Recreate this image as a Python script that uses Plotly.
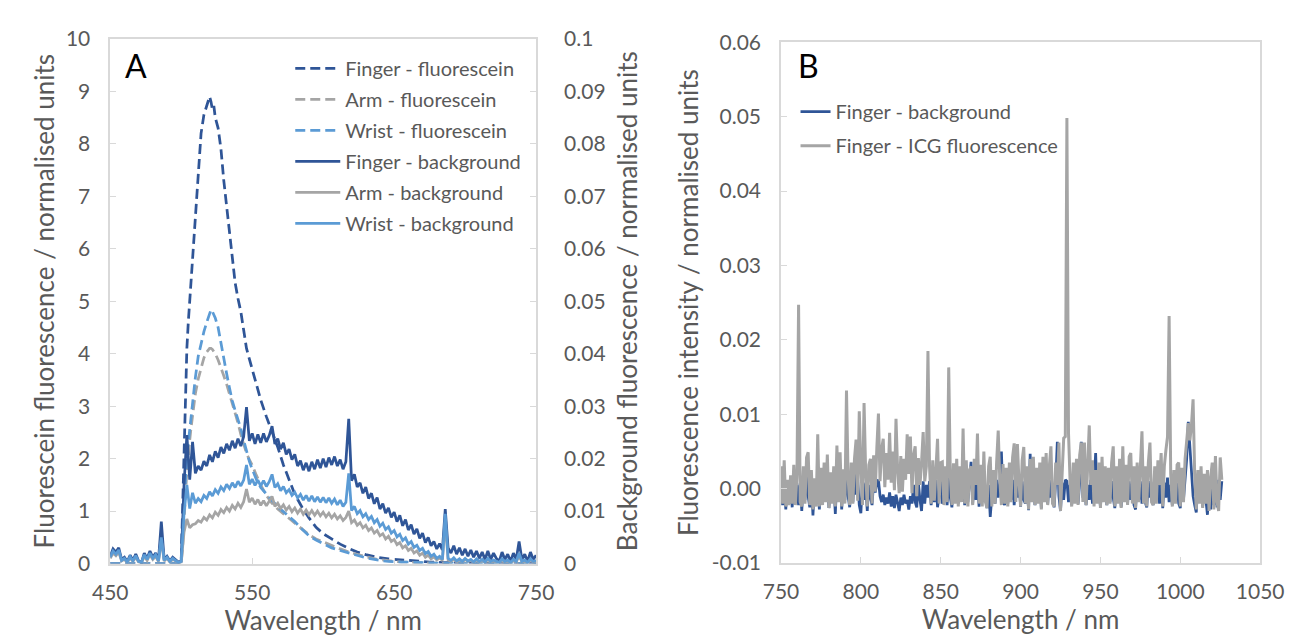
import plotly.graph_objects as go

# ---------------- Panel A data ----------------
fl_wl = [450, 470, 490, 499, 500, 501, 502, 503, 504, 505, 506, 507, 508,
         510, 512, 514, 516, 518, 520, 521, 522, 523, 524,
         526, 528, 530, 532, 534, 536, 538, 540, 542, 544, 546, 548, 550,
         553, 556, 560, 564, 568, 572, 576, 580, 585, 590, 595, 600,
         606, 612, 618, 624, 630, 638, 646, 655, 665, 675, 685, 695,
         710, 730, 750]

finger_fl = [0, 0, 0, 0, 0.05, 1.2, 2.4, 3.4, 4.1, 4.6, 5.0, 5.5, 5.9,
             6.5, 7.5, 8.2, 8.55, 8.75, 8.9, 8.8, 8.65, 8.72, 8.5,
             8.3, 7.9, 7.3, 6.8, 6.3, 5.75, 5.35, 5.05, 4.8, 4.45, 4.1, 3.9, 3.7,
             3.4, 3.12, 2.8, 2.52, 2.22, 1.88, 1.58, 1.32, 1.08, 0.87, 0.69, 0.57,
             0.47, 0.37, 0.29, 0.22, 0.17, 0.12, 0.09, 0.07, 0.05, 0.03, 0.02, 0.01,
             0.005, 0, 0]

arm_fl = [0, 0, 0, 0, 0, 0.3, 0.9, 1.3, 1.75, 2.1, 2.35, 2.6, 2.85,
          3.24, 3.52, 3.75, 3.92, 4.03, 4.1, 4.1, 4.08, 4.04, 4.0,
          3.88, 3.74, 3.58, 3.42, 3.24, 3.07, 2.88, 2.68, 2.46, 2.28, 2.1, 1.98, 1.88,
          1.68, 1.5, 1.3, 1.15, 1.04, 0.95, 0.86, 0.77, 0.65, 0.55, 0.47, 0.41,
          0.34, 0.28, 0.22, 0.17, 0.13, 0.08, 0.05, 0.03, 0.02, 0.01, 0, 0,
          0, 0, 0]

wrist_fl = [0, 0, 0, 0, 0.02, 0.8, 1.1, 1.7, 2.05, 2.3, 2.55, 2.8, 3.1,
            3.55, 3.95, 4.22, 4.42, 4.6, 4.78, 4.84, 4.8, 4.74, 4.68,
            4.5, 4.18, 3.9, 3.62, 3.35, 3.1, 2.92, 2.75, 2.57, 2.35, 2.12, 1.95, 1.8,
            1.6, 1.45, 1.32, 1.2, 1.08, 0.99, 0.9, 0.8, 0.66, 0.53, 0.45, 0.38,
            0.3, 0.25, 0.2, 0.15, 0.11, 0.07, 0.04, 0.03, 0.02, 0.01, 0.005, 0,
            0, 0, 0]

bg_wl = list(range(450, 751, 2))

finger_bg = [
    0.0015, 0.0028, 0.0022, 0.0030, 0.0008, 0.0012, 0.0004, 0.0016, 0.0006, 0.0018,
    0.0005, 0.0002, 0.0020, 0.0010, 0.0024, 0.0012, 0.0020, 0.0006, 0.0080, 0.0008,
    0.0014, 0.0005, 0.0012, 0.0008, 0.0003, 0.0005, 0.0150, 0.0245, 0.0160, 0.0232,
    0.0172, 0.0186, 0.0178, 0.0195, 0.0186, 0.0207, 0.0194, 0.0214, 0.0202, 0.0222,
    0.0210, 0.0228, 0.0216, 0.0234, 0.0220, 0.0238, 0.0224, 0.0242, 0.0298, 0.0234,
    0.0248, 0.0228, 0.0246, 0.0230, 0.0248, 0.0232, 0.0244, 0.0262, 0.0228, 0.0238,
    0.0218, 0.0230, 0.0208, 0.0218, 0.0198, 0.0208, 0.0186, 0.0196, 0.0178, 0.0192,
    0.0176, 0.0194, 0.0180, 0.0198, 0.0182, 0.0200, 0.0184, 0.0202, 0.0188, 0.0204,
    0.0186, 0.0198, 0.0180, 0.0194, 0.0276, 0.0158, 0.0170, 0.0146, 0.0154, 0.0134,
    0.0146, 0.0124, 0.0134, 0.0114, 0.0126, 0.0104, 0.0114, 0.0096, 0.0106, 0.0088,
    0.0098, 0.0080, 0.0092, 0.0072, 0.0084, 0.0064, 0.0074, 0.0056, 0.0066, 0.0048,
    0.0058, 0.0040, 0.0050, 0.0034, 0.0042, 0.0028, 0.0038, 0.0026, 0.0104, 0.0030,
    0.0020, 0.0034, 0.0018, 0.0030, 0.0016, 0.0028, 0.0014, 0.0026, 0.0012, 0.0024,
    0.0010, 0.0022, 0.0008, 0.0024, 0.0008, 0.0020, 0.0010, 0.0004, 0.0022, 0.0008,
    0.0018, 0.0004, 0.0020, 0.0008, 0.0042, 0.0008, 0.0018, 0.0004, 0.0022, 0.0008,
    0.0016]

arm_bg = [
    0.0010, 0.0020, 0.0015, 0.0022, 0.0005, 0.0008, 0.0002, 0.0011, 0.0004, 0.0012,
    0.0003, 0.0001, 0.0014, 0.0006, 0.0017, 0.0008, 0.0014, 0.0004, 0.0045, 0.0005,
    0.0010, 0.0003, 0.0008, 0.0005, 0.0002, 0.0003, 0.0060, 0.0085, 0.0068, 0.0074,
    0.0076, 0.0082, 0.0079, 0.0088, 0.0083, 0.0093, 0.0087, 0.0098, 0.0092, 0.0103,
    0.0097, 0.0107, 0.0100, 0.0111, 0.0104, 0.0115, 0.0107, 0.0118, 0.0142, 0.0117,
    0.0125, 0.0113, 0.0122, 0.0111, 0.0120, 0.0110, 0.0118, 0.0128, 0.0109, 0.0115,
    0.0105, 0.0112, 0.0102, 0.0109, 0.0099, 0.0106, 0.0096, 0.0104, 0.0094, 0.0102,
    0.0093, 0.0101, 0.0092, 0.0100, 0.0091, 0.0098, 0.0089, 0.0096, 0.0087, 0.0094,
    0.0085, 0.0091, 0.0082, 0.0088, 0.0100, 0.0078, 0.0083, 0.0073, 0.0078, 0.0068,
    0.0073, 0.0063, 0.0068, 0.0058, 0.0063, 0.0053, 0.0057, 0.0047, 0.0052, 0.0042,
    0.0046, 0.0036, 0.0040, 0.0030, 0.0034, 0.0025, 0.0029, 0.0020, 0.0024, 0.0016,
    0.0020, 0.0012, 0.0016, 0.0009, 0.0013, 0.0007, 0.0011, 0.0006, 0.0080, 0.0007,
    0.0004, 0.0008, 0.0003, 0.0007, 0.0003, 0.0008, 0.0004, 0.0006, 0.0002, 0.0007,
    0.0003, 0.0006, 0.0002, 0.0008, 0.0003, 0.0005, 0.0004, 0.0001, 0.0007, 0.0003,
    0.0005, 0.0001, 0.0006, 0.0003, 0.0015, 0.0003, 0.0005, 0.0001, 0.0007, 0.0003,
    0.0005]

wrist_bg = [
    0.0012, 0.0024, 0.0018, 0.0026, 0.0006, 0.0010, 0.0003, 0.0013, 0.0005, 0.0015,
    0.0004, 0.0002, 0.0017, 0.0008, 0.0020, 0.0010, 0.0017, 0.0005, 0.0050, 0.0006,
    0.0012, 0.0004, 0.0010, 0.0006, 0.0002, 0.0004, 0.0095, 0.0150, 0.0105, 0.0135,
    0.0115, 0.0124, 0.0118, 0.0130, 0.0124, 0.0137, 0.0129, 0.0141, 0.0134, 0.0146,
    0.0139, 0.0151, 0.0143, 0.0154, 0.0145, 0.0157, 0.0148, 0.0159, 0.0188, 0.0151,
    0.0161, 0.0149, 0.0159, 0.0148, 0.0158, 0.0147, 0.0156, 0.0170, 0.0145, 0.0152,
    0.0139, 0.0147, 0.0135, 0.0141, 0.0130, 0.0136, 0.0125, 0.0132, 0.0121, 0.0130,
    0.0119, 0.0129, 0.0118, 0.0127, 0.0117, 0.0126, 0.0116, 0.0125, 0.0115, 0.0123,
    0.0112, 0.0121, 0.0109, 0.0117, 0.0172, 0.0101, 0.0109, 0.0095, 0.0101, 0.0089,
    0.0095, 0.0084, 0.0090, 0.0078, 0.0084, 0.0071, 0.0077, 0.0065, 0.0070, 0.0058,
    0.0063, 0.0051, 0.0056, 0.0044, 0.0049, 0.0037, 0.0042, 0.0031, 0.0035, 0.0025,
    0.0029, 0.0019, 0.0023, 0.0014, 0.0018, 0.0010, 0.0014, 0.0008, 0.0095, 0.0010,
    0.0006, 0.0011, 0.0005, 0.0009, 0.0004, 0.0010, 0.0005, 0.0008, 0.0003, 0.0009,
    0.0004, 0.0008, 0.0003, 0.0010, 0.0004, 0.0007, 0.0005, 0.0002, 0.0009, 0.0004,
    0.0007, 0.0002, 0.0008, 0.0004, 0.0020, 0.0004, 0.0007, 0.0002, 0.0009, 0.0004,
    0.0006]

# ---------------- Panel B data ----------------
b_wl = list(range(750, 1027))

icg_fl = [
    0.0030, -0.0020, 0.0038, -0.0024, 0.0012, -0.0022, 0.0018, -0.0020, 0.0032, -0.0022,
    0.0020, 0.0247, -0.0018, -0.0024, 0.0030, -0.0020, 0.0042, 0.0049, -0.0022, 0.0025,
    -0.0028, 0.0014, -0.0024, 0.0073, -0.0024, 0.0028, -0.0022, 0.0035, -0.0018, 0.0046,
    -0.0026, 0.0022, -0.0020, 0.0030, -0.0024, 0.0058, -0.0018, 0.0049, -0.0024, 0.0026,
    -0.0020, 0.0132, 0.0015, -0.0022, 0.0035, -0.0020, 0.0040, 0.0066, -0.0016, 0.0104,
    0.0030, -0.0022, 0.0115, 0.0022, -0.0024, 0.0032, 0.0040, -0.0020, 0.0045, -0.0004,
    0.0055, 0.0101, 0.0010, 0.0053, 0.0067, 0.0002, 0.0048, 0.0012, 0.0075, 0.0008,
    0.0050, -0.0002, 0.0094, 0.0025, -0.0006, 0.0044, -0.0004, 0.0040, 0.0012, 0.0073,
    0.0020, 0.0070, -0.0006, 0.0045, 0.0057, -0.0010, 0.0041, 0.0005, 0.0035, 0.0076,
    0.0010, 0.0030, 0.0185, 0.0030, -0.0020, 0.0038, -0.0016, 0.0032, 0.0067, -0.0020,
    0.0035, 0.0036, -0.0022, 0.0030, -0.0018, 0.0163, 0.0018, -0.0022, 0.0034, -0.0020,
    0.0040, -0.0024, 0.0030, -0.0018, 0.0081, -0.0020, 0.0038, -0.0024, 0.0025, 0.0030,
    -0.0022, 0.0040, 0.0005, 0.0074, -0.0020, 0.0032, -0.0024, 0.0050, -0.0018, -0.0026,
    0.0030, 0.0043, -0.0024, 0.0025, -0.0020, 0.0035, 0.0078, 0.0010, -0.0022, 0.0033,
    -0.0020, 0.0028, -0.0024, 0.0035, -0.0018, 0.0042, 0.0061, -0.0018, 0.0060, 0.0010,
    -0.0024, 0.0038, 0.0056, -0.0020, 0.0030, -0.0028, 0.0040, -0.0018, 0.0043, -0.0022,
    0.0028, -0.0020, 0.0035, -0.0028, 0.0043, -0.0018, 0.0048, -0.0022, 0.0030, 0.0057,
    -0.0020, -0.0024, 0.0035, 0.0005, 0.0062, -0.0030, 0.0030, 0.0068, 0.0070, 0.0498,
    0.0075, 0.0010, -0.0024, 0.0035, -0.0020, 0.0040, -0.0022, 0.0045, 0.0062, -0.0018,
    0.0062, -0.0022, 0.0030, 0.0085, 0.0005, 0.0038, -0.0024, 0.0025, -0.0020, 0.0035,
    -0.0026, 0.0043, -0.0018, 0.0030, -0.0022, 0.0028, -0.0020, 0.0035, 0.0057, -0.0024,
    0.0030, -0.0020, 0.0040, -0.0026, 0.0057, -0.0018, 0.0032, -0.0022, 0.0043, 0.0048,
    -0.0020, 0.0030, -0.0026, 0.0035, -0.0018, 0.0040, 0.0077, -0.0020, 0.0030, -0.0024,
    0.0035, 0.0062, -0.0018, -0.0022, 0.0030, -0.0020, 0.0038, 0.0005, 0.0048, -0.0024,
    0.0030, 0.0052, 0.0070, 0.0232, 0.0020, -0.0024, 0.0025, -0.0020, 0.0032, 0.0035,
    -0.0024, 0.0028, -0.0018, 0.0040, 0.0060, 0.0088, 0.0065, 0.0085, 0.0120, 0.0020,
    -0.0028, 0.0025, -0.0020, 0.0030, -0.0026, 0.0020, -0.0020, 0.0025, -0.0030, 0.0015,
    0.0035, -0.0028, 0.0044, -0.0018, -0.0030, 0.0042, 0.0012]

finger_b = [
    0.0012, -0.0022, 0.0005, -0.0028, 0.0008, -0.0020, 0.0010, -0.0025, 0.0015, -0.0018,
    0.0005, -0.0022, 0.0008, -0.0030, 0.0012, -0.0015, 0.0020, -0.0010, -0.0025, 0.0010,
    -0.0036, 0.0005, -0.0020, 0.0015, -0.0028, 0.0010, -0.0018, 0.0020, 0.0005, 0.0010,
    -0.0026, 0.0008, -0.0018, 0.0012, -0.0034, 0.0015, -0.0012, 0.0018, -0.0028, 0.0010,
    -0.0015, 0.0022, -0.0010, -0.0025, 0.0013, -0.0018, 0.0020, -0.0008, 0.0012, -0.0022,
    -0.0033, 0.0010, -0.0015, 0.0008, -0.0030, 0.0005, -0.0012, -0.0022, 0.0010, -0.0005,
    0.0008, 0.0012, -0.0010, -0.0018, -0.0008, -0.0022, -0.0012, -0.0020, -0.0005, -0.0024,
    -0.0010, -0.0026, -0.0008, -0.0018, -0.0030, -0.0012, -0.0022, -0.0008, -0.0020, -0.0015,
    -0.0028, -0.0010, -0.0020, 0.0005, -0.0018, -0.0025, 0.0008, -0.0015, -0.0030, 0.0010,
    -0.0020, 0.0005, -0.0012, 0.0010, -0.0022, 0.0008, -0.0018, 0.0012, -0.0025, -0.0010,
    0.0010, -0.0020, -0.0015, 0.0008, -0.0022, 0.0015, -0.0012, -0.0025, 0.0010, -0.0018,
    0.0005, -0.0020, 0.0012, -0.0015, 0.0020, -0.0022, 0.0008, -0.0018, 0.0005, 0.0036,
    -0.0020, 0.0010, -0.0015, 0.0012, -0.0024, 0.0008, -0.0018, 0.0015, -0.0010, -0.0026,
    0.0005, -0.0038, -0.0010, 0.0008, -0.0020, 0.0012, -0.0012, 0.0005, 0.0050, -0.0015,
    -0.0022, 0.0010, -0.0020, 0.0005, -0.0015, 0.0012, -0.0022, 0.0008, -0.0012, 0.0015,
    -0.0024, 0.0010, -0.0015, -0.0020, 0.0008, -0.0029, 0.0047, -0.0010, 0.0010, -0.0022,
    0.0005, -0.0018, 0.0012, -0.0026, 0.0010, -0.0015, 0.0008, -0.0020, 0.0012, -0.0012,
    0.0005, -0.0025, 0.0010, 0.0063, -0.0010, -0.0030, 0.0008, -0.0015, 0.0012, 0.0010,
    -0.0018, 0.0005, -0.0022, 0.0010, -0.0015, 0.0015, -0.0020, 0.0008, 0.0063, -0.0012,
    0.0010, -0.0022, 0.0005, -0.0015, 0.0012, -0.0020, 0.0008, 0.0048, -0.0018, 0.0005,
    -0.0025, 0.0010, -0.0015, 0.0012, -0.0022, 0.0008, -0.0018, 0.0010, -0.0012, -0.0026,
    0.0008, -0.0015, 0.0012, -0.0024, 0.0010, -0.0012, 0.0005, -0.0020, 0.0010, -0.0015,
    0.0008, -0.0022, -0.0028, 0.0012, -0.0015, 0.0010, -0.0020, 0.0005, -0.0018, -0.0025,
    0.0010, -0.0012, 0.0008, -0.0022, 0.0012, -0.0015, 0.0005, -0.0020, 0.0010, -0.0026,
    0.0008, -0.0012, 0.0015, -0.0018, 0.0005, -0.0022, 0.0010, -0.0015, 0.0008, -0.0020,
    -0.0026, 0.0010, -0.0015, 0.0012, 0.0040, 0.0090, 0.0060, 0.0030, -0.0010, -0.0022,
    -0.0032, 0.0008, -0.0015, 0.0010, -0.0024, 0.0005, -0.0018, -0.0035, 0.0005, -0.0028,
    0.0010, -0.0022, 0.0008, -0.0025, 0.0012, -0.0015, 0.0010]

a_xticks = [450, 550, 650, 750]
a_yticks = list(range(0, 11))
a_y2ticks = [0, 0.01, 0.02, 0.03, 0.04, 0.05, 0.06, 0.07, 0.08, 0.09, 0.1]
a_y2text = ["0", "0.01", "0.02", "0.03", "0.04", "0.05", "0.06", "0.07", "0.08", "0.09", "0.1"]
b_xticks = [750, 800, 850, 900, 950, 1000, 1050]
b_yticks = [-0.01, 0, 0.01, 0.02, 0.03, 0.04, 0.05, 0.06]
b_ytext = ["-0.01", "0.00", "0.01", "0.02", "0.03", "0.04", "0.05", "0.06"]

DARK = "#2f5597"
LIGHT = "#5b9bd5"
GRAY = "#a5a5a5"
TXT = "#595959"
AX = "#d9d9d9"
FONT = "Lato, 'Open Sans', sans-serif"
DASH = "10px,5px"

fig = go.Figure()

fl_series = [("Finger - fluorescein", finger_fl, DARK),
             ("Arm - fluorescein", arm_fl, GRAY),
             ("Wrist - fluorescein", wrist_fl, LIGHT)]
for i, (name, ys, col) in enumerate(fl_series):
    fig.add_trace(go.Scatter(x=fl_wl, y=ys, name=name, mode="lines",
                             line=dict(color=col, width=2.75, dash=DASH),
                             xaxis="x", yaxis="y", legend="legend",
                             legendgroup="a%d" % i))

bg_series = [("Finger - background", finger_bg, DARK),
             ("Arm - background", arm_bg, GRAY),
             ("Wrist - background", wrist_bg, LIGHT)]
for i, (name, ys, col) in enumerate(bg_series):
    fig.add_trace(go.Scatter(x=bg_wl, y=ys, name=name, mode="lines",
                             line=dict(color=col, width=2.75),
                             xaxis="x", yaxis="y2", legend="legend",
                             legendgroup="b%d" % i))

fig.add_trace(go.Scatter(x=b_wl, y=finger_b, name="Finger - background", mode="lines",
                         line=dict(color=DARK, width=2.75),
                         xaxis="x2", yaxis="y3", legend="legend2", legendgroup="c0"))
fig.add_trace(go.Scatter(x=b_wl, y=icg_fl, name="Finger - ICG fluorescence", mode="lines",
                         line=dict(color=GRAY, width=3),
                         xaxis="x2", yaxis="y3", legend="legend2", legendgroup="c1"))

W, H = 1311, 643


def px_x(v):
    return v / W


def px_y(v):
    return 1 - v / H


ax_common = dict(showgrid=False, zeroline=False, showline=True, linecolor=AX,
                 linewidth=1.5, ticks="inside", ticklen=6, tickwidth=1.3,
                 tickcolor=AX, tickfont=dict(family=FONT, size=21, color=TXT))
title_font = dict(family=FONT, size=26, color=TXT)

fig.update_layout(
    width=W, height=H, margin=dict(l=0, r=0, t=0, b=0),
    paper_bgcolor="white", plot_bgcolor="white",
    xaxis=dict(domain=[px_x(87), px_x(527)], range=[450, 750], tickvals=a_xticks,
               anchor="y", mirror=True, ticklabelstandoff=9,
               title=dict(text="Wavelength / nm", font=title_font, standoff=4),
               **ax_common),
    yaxis=dict(domain=[px_y(563.5), px_y(17.5)], range=[0, 10], tickvals=a_yticks,
               anchor="x", mirror=True, ticklabelstandoff=14,
               title=dict(text="Fluorescein fluorescence / normalised units",
                          font=title_font, standoff=4),
               **ax_common),
    yaxis2=dict(overlaying="y", side="right", range=[0, 0.1], tickvals=a_y2ticks,
                ticktext=a_y2text, anchor="x", ticklabelstandoff=22,
                title=dict(text="Background fluorescence / normalised units",
                           font=title_font, standoff=14),
                **ax_common),
    xaxis2=dict(domain=[px_x(780), px_x(1275)], range=[750, 1050], tickvals=b_xticks,
                anchor="y3", mirror=True, ticklabelstandoff=9,
                title=dict(text="Wavelength / nm", font=title_font, standoff=4),
                **ax_common),
    yaxis3=dict(domain=[px_y(563), px_y(21)], range=[-0.01, 0.06],
                tickvals=b_yticks, ticktext=b_ytext, anchor="x2", mirror=True,
                ticklabelstandoff=14,
                title=dict(text="Fluorescence intensity / normalised units",
                           font=title_font, standoff=6),
                **ax_common),
    legend=dict(x=px_x(273), y=px_y(28), xanchor="left", yanchor="top",
                bgcolor="rgba(0,0,0,0)", font=dict(family=FONT, size=20, color=TXT),
                traceorder="grouped", tracegroupgap=2, itemwidth=45),
    legend2=dict(x=px_x(795), y=px_y(73), xanchor="left", yanchor="top",
                 bgcolor="rgba(0,0,0,0)", font=dict(family=FONT, size=20, color=TXT),
                 traceorder="grouped", tracegroupgap=5, itemwidth=30),
    annotations=[
        dict(text="A", x=px_x(100), y=px_y(45), xref="paper", yref="paper",
             xanchor="left", yanchor="middle", showarrow=False,
             font=dict(family=FONT, size=32, color="black")),
        dict(text="B", x=px_x(796), y=px_y(45.5), xref="paper", yref="paper",
             xanchor="left", yanchor="middle", showarrow=False,
             font=dict(family=FONT, size=32, color="black")),
    ],
)

fig.write_html("out.html")
